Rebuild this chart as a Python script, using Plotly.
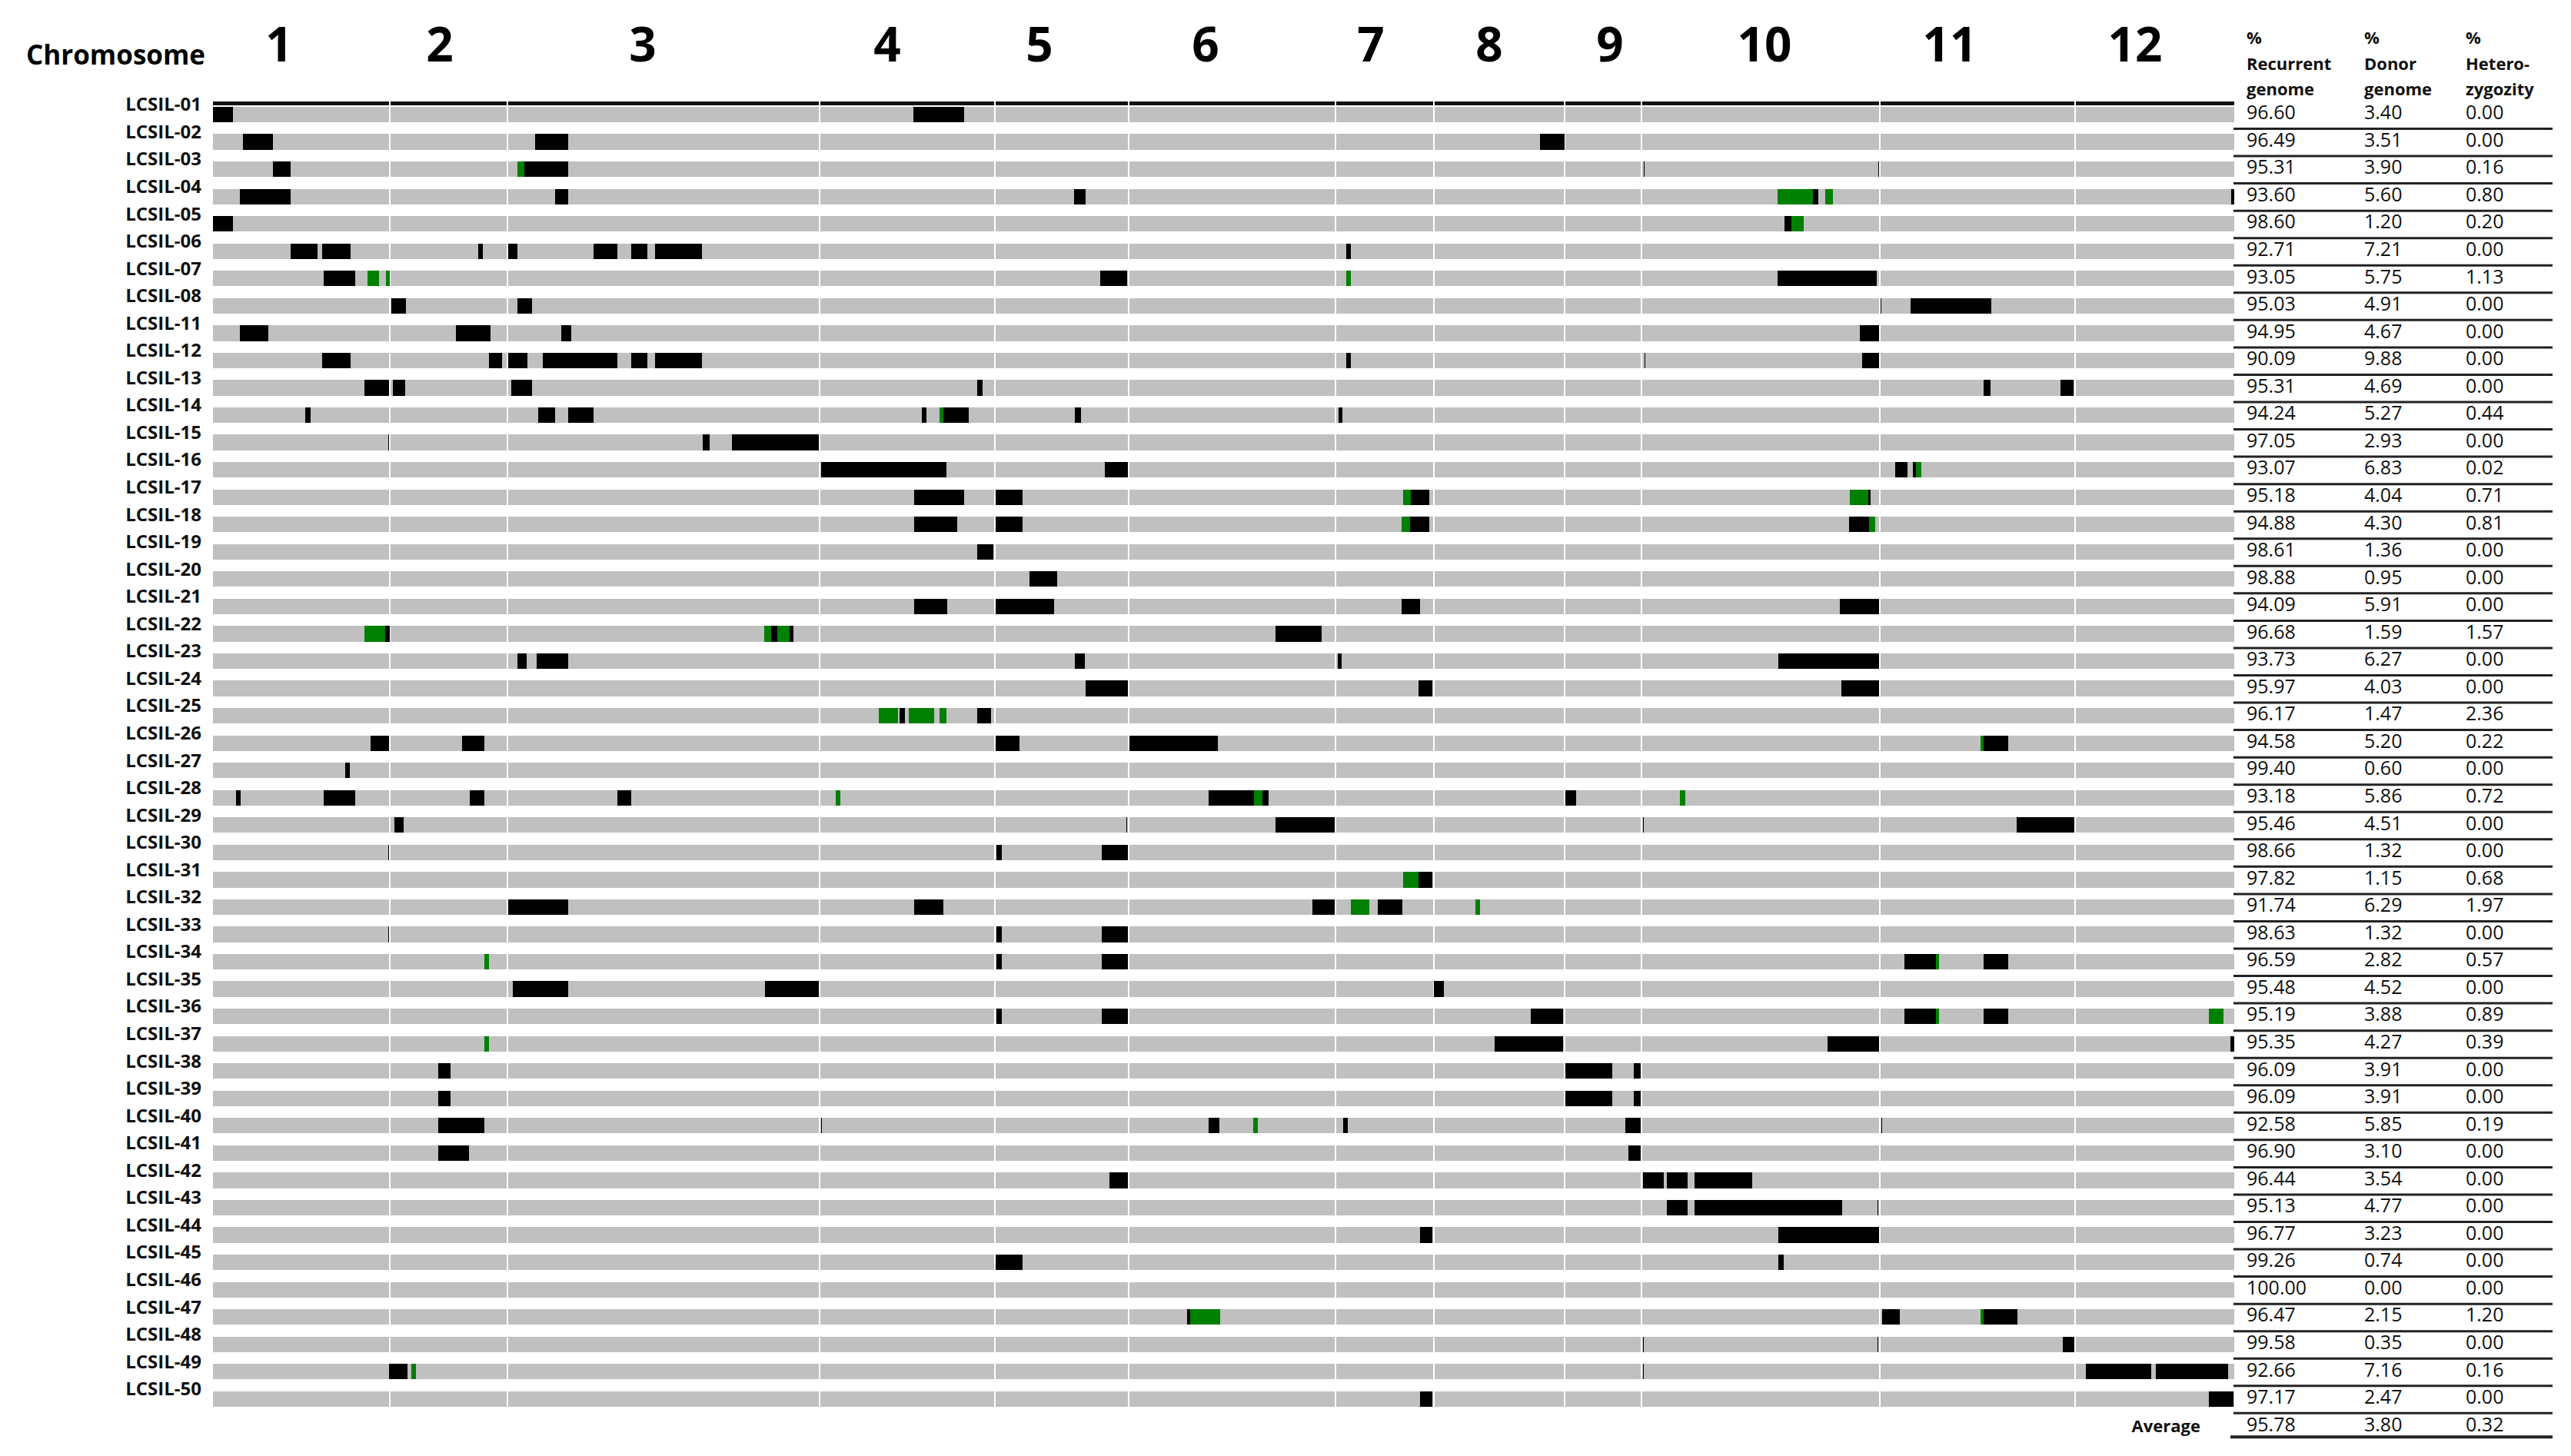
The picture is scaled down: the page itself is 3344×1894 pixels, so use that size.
import plotly.graph_objects as go

# ---- data -------------------------------------------------------------
chromosomes = [str(i) for i in range(1, 13)]
# chromosome sizes in map units (cumulative map drawn left to right)
chrom_len = [230, 153, 406, 228, 174, 269, 128, 170, 100, 310, 254, 207]

lines = ["LCSIL-01", "LCSIL-02", "LCSIL-03", "LCSIL-04", "LCSIL-05", "LCSIL-06",
         "LCSIL-07", "LCSIL-08", "LCSIL-11", "LCSIL-12", "LCSIL-13", "LCSIL-14",
         "LCSIL-15", "LCSIL-16", "LCSIL-17", "LCSIL-18", "LCSIL-19", "LCSIL-20",
         "LCSIL-21", "LCSIL-22", "LCSIL-23", "LCSIL-24", "LCSIL-25", "LCSIL-26",
         "LCSIL-27", "LCSIL-28", "LCSIL-29", "LCSIL-30", "LCSIL-31", "LCSIL-32",
         "LCSIL-33", "LCSIL-34", "LCSIL-35", "LCSIL-36", "LCSIL-37", "LCSIL-38",
         "LCSIL-39", "LCSIL-40", "LCSIL-41", "LCSIL-42", "LCSIL-43", "LCSIL-44",
         "LCSIL-45", "LCSIL-46", "LCSIL-47", "LCSIL-48", "LCSIL-49", "LCSIL-50"]

recurrent = [96.60, 96.49, 95.31, 93.60, 98.60, 92.71, 93.05, 95.03, 94.95, 90.09,
             95.31, 94.24, 97.05, 93.07, 95.18, 94.88, 98.61, 98.88, 94.09, 96.68,
             93.73, 95.97, 96.17, 94.58, 99.40, 93.18, 95.46, 98.66, 97.82, 91.74,
             98.63, 96.59, 95.48, 95.19, 95.35, 96.09, 96.09, 92.58, 96.90, 96.44,
             95.13, 96.77, 99.26, 100.00, 96.47, 99.58, 92.66, 97.17]
donor = [3.40, 3.51, 3.90, 5.60, 1.20, 7.21, 5.75, 4.91, 4.67, 9.88,
         4.69, 5.27, 2.93, 6.83, 4.04, 4.30, 1.36, 0.95, 5.91, 1.59,
         6.27, 4.03, 1.47, 5.20, 0.60, 5.86, 4.51, 1.32, 1.15, 6.29,
         1.32, 2.82, 4.52, 3.88, 4.27, 3.91, 3.91, 5.85, 3.10, 3.54,
         4.77, 3.23, 0.74, 0.00, 2.15, 0.35, 7.16, 2.47]
hetero = [0.00, 0.00, 0.16, 0.80, 0.20, 0.00, 1.13, 0.00, 0.00, 0.00,
          0.00, 0.44, 0.00, 0.02, 0.71, 0.81, 0.00, 0.00, 0.00, 1.57,
          0.00, 0.00, 2.36, 0.22, 0.00, 0.72, 0.00, 0.00, 0.68, 1.97,
          0.00, 0.57, 0.00, 0.89, 0.39, 0.00, 0.00, 0.19, 0.00, 0.00,
          0.00, 0.00, 0.00, 0.00, 1.20, 0.00, 0.16, 0.00]
average = [95.78, 3.80, 0.32]

# donor (homozygous) blocks per line, (start, end) on the cumulative map
donor_blocks = [
    [(0, 26), (911, 977)],
    [(39, 78), (419, 462), (1726, 1758)],
    [(78, 101), (405, 462), (1861, 1862), (2166, 2167)],
    [(35, 101), (445, 462), (1120, 1135), (2081, 2088), (2625, 2629)],
    [(0, 26), (2044, 2053)],
    [(101, 136), (142, 179), (345, 351), (384, 396), (495, 526), (544, 565), (575, 636), (1474, 1480)],
    [(144, 185), (1154, 1189), (2035, 2164)],
    [(232, 251), (396, 415), (2169, 2170), (2208, 2313)],
    [(35, 72), (316, 361), (453, 466), (2142, 2167)],
    [(142, 179), (359, 376), (384, 409), (429, 526), (544, 565), (575, 636), (1474, 1480), (1862, 1863), (2145, 2167)],
    [(197, 229), (234, 250), (388, 415), (994, 1001), (2303, 2312), (2403, 2420)],
    [(120, 127), (423, 445), (462, 495), (922, 928), (950, 983), (1121, 1129), (1464, 1469)],
    [(228, 229), (637, 646), (675, 788)],
    [(791, 954), (1160, 1190), (2188, 2204), (2211, 2215)],
    [(912, 977), (1018, 1053), (1558, 1582), (2153, 2156)],
    [(912, 968), (1018, 1053), (1557, 1582), (2128, 2154)],
    [(994, 1015)],
    [(1062, 1098)],
    [(912, 955), (1018, 1094), (1546, 1570), (2116, 2167)],
    [(224, 230), (726, 734), (750, 755), (1382, 1442)],
    [(396, 408), (421, 462), (1121, 1134), (1463, 1468), (2036, 2167)],
    [(1135, 1190), (1568, 1586), (2118, 2167)],
    [(893, 900), (994, 1012)],
    [(205, 229), (324, 353), (1018, 1049), (1192, 1307), (2303, 2335)],
    [(172, 178)],
    [(30, 36), (144, 185), (334, 353), (526, 544), (1295, 1354), (1365, 1373), (1759, 1773)],
    [(236, 248), (1188, 1189), (1382, 1459), (1860, 1861), (2346, 2421)],
    [(228, 229), (1019, 1026), (1156, 1190)],
    [(1568, 1586)],
    [(384, 462), (912, 950), (1430, 1459), (1515, 1547)],
    [(228, 229), (1019, 1026), (1156, 1190)],
    [(1019, 1026), (1156, 1190), (2200, 2241), (2303, 2335)],
    [(390, 462), (718, 788), (1588, 1601)],
    [(1019, 1026), (1156, 1190), (1714, 1756), (2200, 2241), (2303, 2335)],
    [(1667, 1756), (2100, 2167), (2624, 2629)],
    [(293, 309), (1759, 1820), (1848, 1857)],
    [(293, 309), (1759, 1820), (1848, 1857)],
    [(293, 353), (791, 792), (1295, 1309), (1470, 1476), (1837, 1857), (2170, 2171)],
    [(293, 333), (1841, 1857)],
    [(1166, 1190), (1860, 1887), (1891, 1918), (1927, 2002)],
    [(1891, 1918), (1927, 2119), (2165, 2166)],
    [(1570, 1586), (2036, 2167)],
    [(1018, 1053), (2036, 2043)],
    [],
    [(1267, 1271), (2171, 2194), (2303, 2347)],
    [(1860, 1861), (2165, 2166), (2406, 2421)],
    [(229, 253), (1860, 1861), (2436, 2521), (2527, 2621)],
    [(1570, 1586), (2596, 2628)],
]

# heterozygous blocks per line
het_blocks = [
    [], [], [(396, 405)], [(2035, 2081), (2097, 2107)], [(2053, 2069)], [],
    [(201, 216), (225, 230), (1474, 1480)], [], [], [], [],
    [(945, 950)], [], [(2215, 2222)], [(1548, 1558), (2129, 2153)],
    [(1546, 1557), (2154, 2162)], [], [], [],
    [(197, 224), (717, 726), (734, 750)], [], [],
    [(866, 891), (905, 938), (945, 954)], [(2299, 2303)], [],
    [(810, 816), (1354, 1365), (1908, 1915)], [], [], [(1548, 1568)],
    [(1480, 1504), (1642, 1648)], [], [(353, 359), (2241, 2245)], [],
    [(2241, 2245), (2596, 2615)], [(353, 359)], [], [], [(1353, 1359)], [],
    [], [], [], [], [], [(1271, 1310), (2299, 2303)], [], [(258, 264)], [],
]

# ---- layout constants ---------------------------------------------------
W, H = 3328, 1878
PX0 = 269          # pixel where the map starts
PY0 = 141          # pixel of first row centre
ROW_PX = 35.55     # pixels per row
BAR_W = 0.57
GAP = 2.5
FONT = "Open Sans"
# where the chromosome numbers sit above the map (hand placed in the original)
label_x = [86, 295, 559, 877, 1075, 1291, 1506, 1660, 1817, 2018, 2259, 2500]

bounds = [0]
for L in chrom_len:
    bounds.append(bounds[-1] + L)
n = len(lines)
rows = list(range(n))

fig = go.Figure()


def add_blocks(ys, blocks, color, width):
    yy, xx, bb = [], [], []
    for y, blist in zip(ys, blocks):
        for s, e in blist:
            yy.append(y)
            bb.append(s)
            xx.append(max(e - s, 1))
    fig.add_trace(go.Bar(y=yy, x=xx, base=bb, orientation="h", width=width,
                         marker=dict(color=color, line_width=0),
                         hoverinfo="skip", showlegend=False))


# recurrent genome background, one piece per chromosome
chrom_pieces = []
for k in range(12):
    s = bounds[k] + (GAP / 2 if k > 0 else 0)
    e = bounds[k + 1] - (GAP / 2 if k < 11 else 0)
    chrom_pieces.append((s, e))
add_blocks(rows, [chrom_pieces] * n, "#C0C0C0", BAR_W)
# top rule split by chromosome
add_blocks([-0.42], [chrom_pieces], "#111111", 0.14)
add_blocks(rows, donor_blocks, "#000000", BAR_W)
add_blocks(rows, het_blocks, "#008000", BAR_W)

# line names
fig.add_trace(go.Scatter(
    x=[-15] * n, y=[r - 0.3 for r in rows], mode="text",
    text=[f"<b>{l}</b>" for l in lines], textposition="middle left",
    textfont=dict(family=FONT, size=24, color="#111"), hoverinfo="skip", showlegend=False))

# chromosome numbers
fig.add_trace(go.Scatter(
    x=label_x, y=[-2.39] * 12,
    mode="text", text=[f"<b>{c}</b>" for c in chromosomes], textposition="middle center",
    textfont=dict(family=FONT, size=62, color="#000"), hoverinfo="skip", showlegend=False))
fig.add_trace(go.Scatter(
    x=[-10], y=[-2.08], mode="text", text=["<b>Chromosome</b>"], textposition="middle left",
    textfont=dict(family=FONT, size=35, color="#000"), hoverinfo="skip", showlegend=False))

# table
col_x = [2645, 2798, 2930]
headers = [["%", "Recurrent", "genome"], ["%", "Donor", "genome"], ["%", "Hetero-", "zygozity"]]
head_y = [-2.73, -1.80, -0.87]
for cx, col, hd, av in zip(col_x, [recurrent, donor, hetero], headers, average):
    fig.add_trace(go.Scatter(
        x=[cx] * (n + 1), y=rows + [48.0], mode="text",
        text=[f"{v:.2f}" for v in col] + [f"{av:.2f}"], textposition="middle right",
        textfont=dict(family=FONT, size=25, color="#111"), hoverinfo="skip", showlegend=False))
    fig.add_trace(go.Scatter(
        x=[cx] * 3, y=head_y, mode="text", text=[f"<b>{h}</b>" for h in hd],
        textposition="middle right", textfont=dict(family=FONT, size=22, color="#111"),
        hoverinfo="skip", showlegend=False))

fig.add_trace(go.Scatter(
    x=[2585], y=[48.05], mode="text", text=["<b>Average</b>"], textposition="middle left",
    textfont=dict(family=FONT, size=22, color="#111"), hoverinfo="skip", showlegend=False))

# row rules of the table
rx, ry = [], []
for r in rows:
    rx += [2628, 3043, None]
    ry += [r + 0.52, r + 0.52, None]
fig.add_trace(go.Scatter(x=rx, y=ry, mode="lines", line=dict(color="#222", width=3),
                         hoverinfo="skip", showlegend=False))
fig.add_trace(go.Scatter(x=[2624, 3043], y=[48.39, 48.39], mode="lines",
                         line=dict(color="#222", width=4), hoverinfo="skip", showlegend=False))

fig.update_layout(
    width=W, height=H,
    margin=dict(l=0, r=0, t=0, b=0, pad=0),
    barmode="overlay", bargap=0,
    plot_bgcolor="white", paper_bgcolor="white",
    xaxis=dict(range=[-PX0, W - PX0], visible=False, fixedrange=True),
    yaxis=dict(range=[(H - PY0) / ROW_PX, -PY0 / ROW_PX], visible=False, fixedrange=True),
    showlegend=False,
)

fig.write_html("out.html")
